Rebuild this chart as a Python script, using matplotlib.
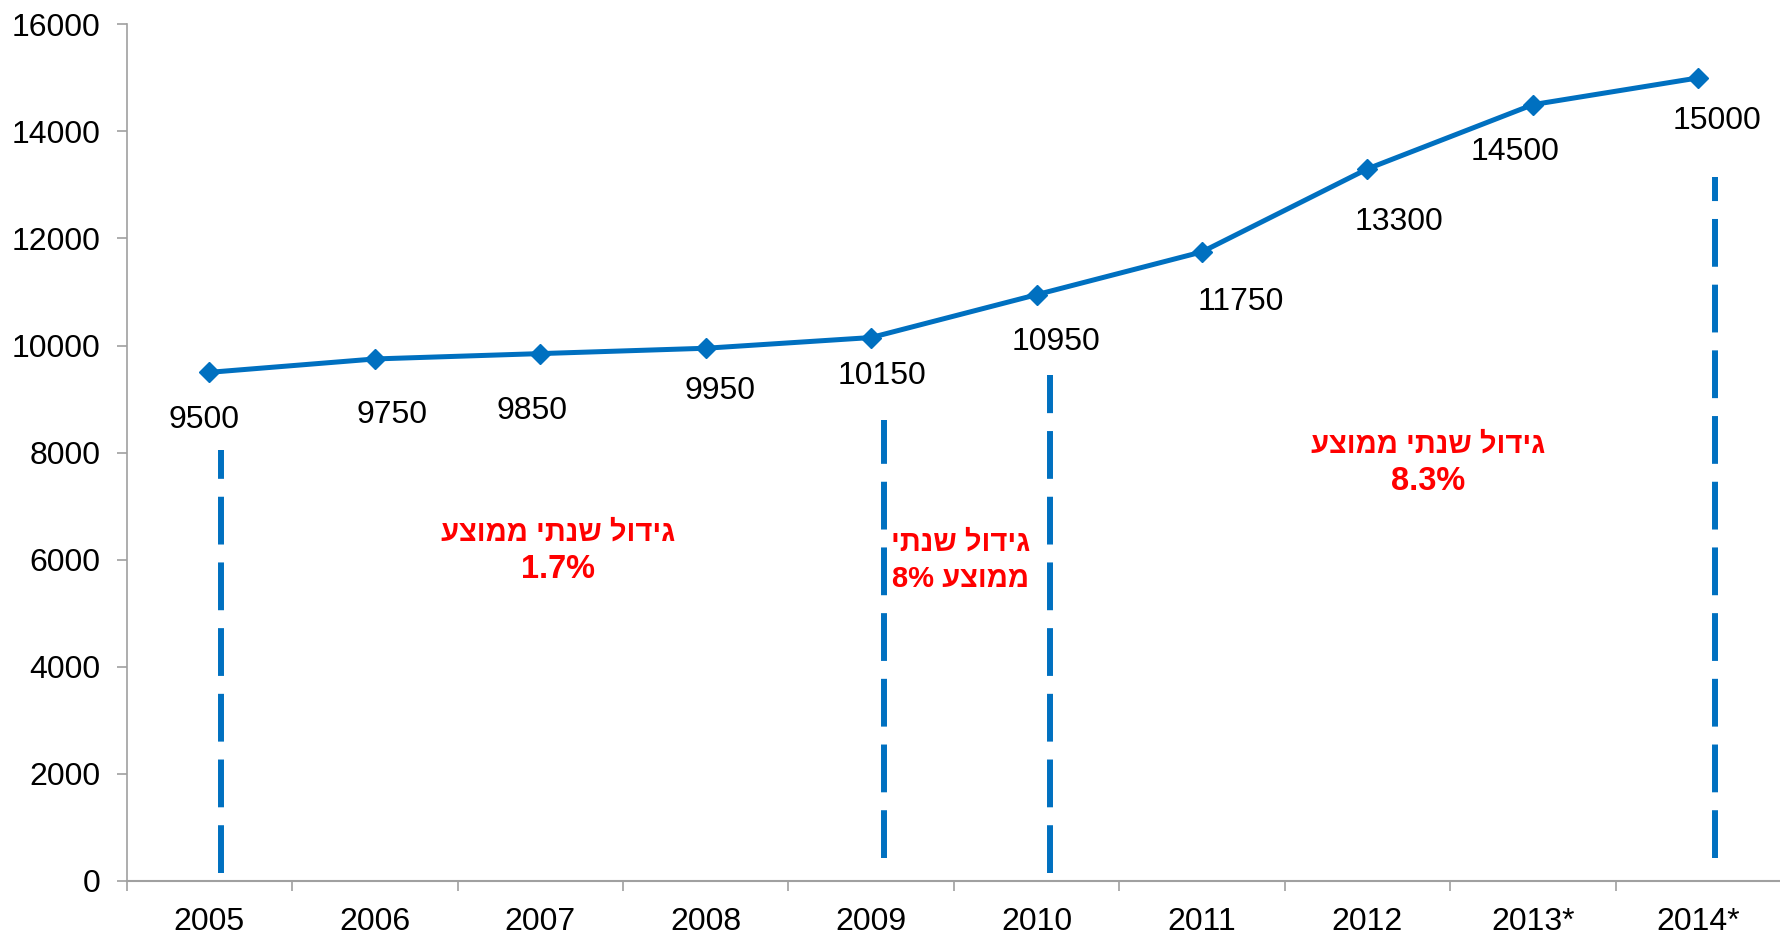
import matplotlib.pyplot as plt

years = ["2005", "2006", "2007", "2008", "2009", "2010", "2011", "2012", "2013*", "2014*"]
values = [9500, 9750, 9850, 9950, 10150, 10950, 11750, 13300, 14500, 15000]

# period notes (Hebrew, logical order)
notes = [
    ["גידול שנתי ממוצע", "1.7%"],
    ["גידול שנתי", "ממוצע 8%"],
    ["גידול שנתי ממוצע", "8.3%"],
]
note_pos = [(2.11, 6170), (4.54, 5980), (7.37, 7810)]

# dashed period dividers: x, bottom, top
dividers = [(0.07, 142, 8043), (4.08, 422, 8604), (5.08, 142, 9458), (9.10, 422, 13140)]

# label offsets in points (nudged like the original)
label_off = [(-3.6, -34.6), (12.2, -40.3), (-5.8, -41), (10, -31), (8, -27.4),
             (13.7, -33.8), (28, -36), (23, -38.2), (-13, -33.8), (13.7, -31)]

blue = "#0070C0"
fam = ["Liberation Sans", "DejaVu Sans"]
plt.rcParams["font.family"] = fam


def is_heb(s):
    return any("\u0590" <= c <= "\u05FF" for c in s)


def visual(s):
    # matplotlib has no bidi, so flip Hebrew words by hand
    out = []
    for w in reversed(s.split(" ")):
        out.append(w[::-1] if is_heb(w) else w)
    return " ".join(out)


fig = plt.figure(figsize=(17.81, 9.36), dpi=100)
ax = fig.add_axes([0.0711, 0.0588, 0.9289, 0.9152])

x = range(len(years))
ax.plot(x, values, color=blue, lw=3.6, marker="D", ms=10.5, zorder=3)

for i, v in enumerate(values):
    ax.annotate(str(v), (i, v), xytext=label_off[i], textcoords="offset points",
                ha="center", va="center", fontsize=23, color="black")

for dx, y0, y1 in dividers:
    ax.plot([dx, dx], [y0, y1], color=blue, lw=4.3, linestyle=(0, (8, 3)),
            solid_capstyle="butt", dash_capstyle="butt")

for (nx, ny), lines in zip(note_pos, notes):
    for k, line in enumerate(lines):
        ax.annotate(visual(line), (nx, ny), xytext=(0, 13.3 - 26.6 * k),
                    textcoords="offset points", ha="center", va="center",
                    fontsize=21 if is_heb(line) else 23.5, color="#FF0000",
                    fontweight="bold", family=fam)

ax.set_xlim(-0.5, 9.5)
ax.set_ylim(0, 16000)
ax.set_yticks(range(0, 16001, 2000))
ax.set_xticks(list(x))
ax.set_xticklabels(years)
ax.set_xticks([i - 0.5 for i in range(11)], minor=True)

ax.tick_params(axis="x", which="major", length=0, pad=19, labelsize=23)
ax.tick_params(axis="x", which="minor", length=7, width=1.2, color="#A0A0A0")
ax.tick_params(axis="y", length=7, width=1.2, color="#A0A0A0", pad=12, labelsize=23)

for s in ["top", "right"]:
    ax.spines[s].set_visible(False)
ax.spines["left"].set_color("#A0A0A0")
ax.spines["left"].set_linewidth(1.2)
ax.spines["bottom"].set_color("#A0A0A0")
ax.spines["bottom"].set_linewidth(1.5)

fig.savefig("out.png", dpi=100)
